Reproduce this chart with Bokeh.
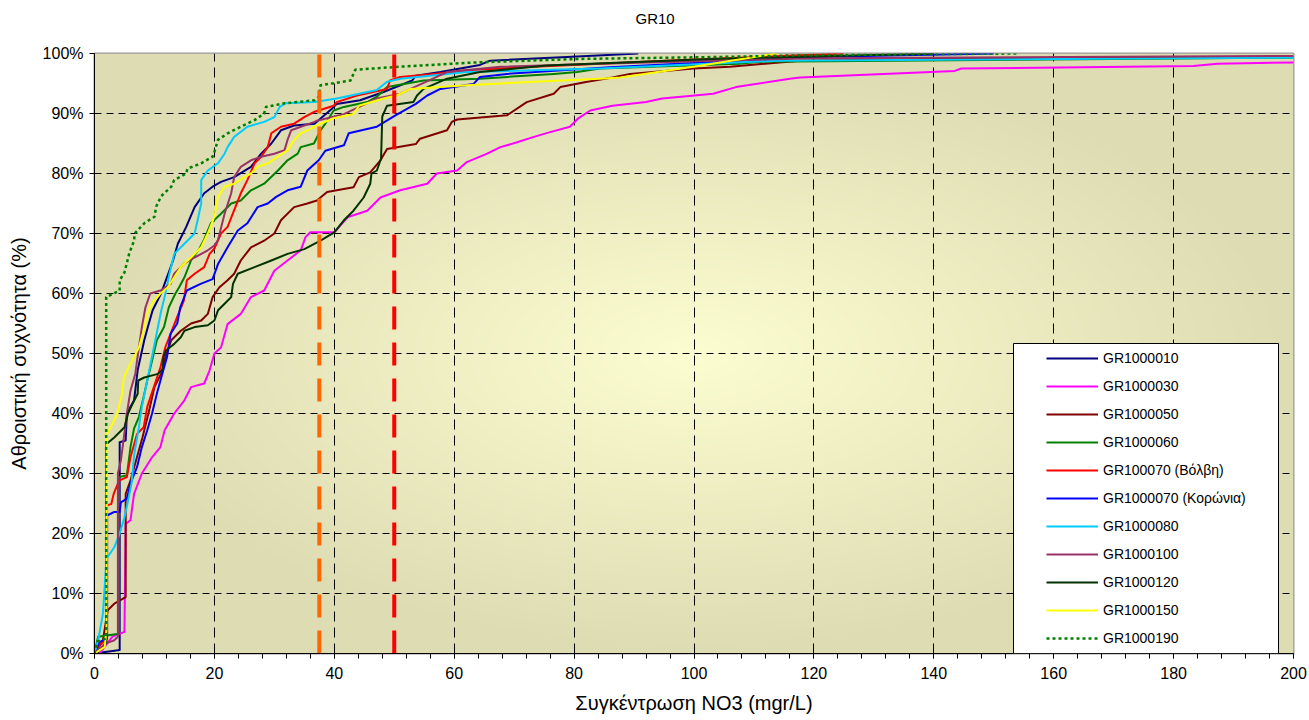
import numpy as np
from bokeh.plotting import figure
from bokeh.models import (Range1d, FixedTicker, PrintfTickFormatter, Legend,
                          LegendItem, BoxAnnotation, ColumnDataSource)
from bokeh.embed import file_html
from bokeh.resources import INLINE

# ---------------------------------------------------------------------------
# Cumulative frequency of NO3 concentration per monitoring station (GR10)
# x: concentration (mgr/L), y: cumulative frequency (%)
# ---------------------------------------------------------------------------
station_names = ["GR1000010", "GR1000030", "GR1000050", "GR1000060",
                 "GR100070 (Βόλβη)", "GR1000070 (Κορώνια)", "GR1000080",
                 "GR1000100", "GR1000120", "GR1000150", "GR1000190"]

station_colors = ["#000080", "#ff00ff", "#800000", "#008000", "#ff0000",
                  "#0000ff", "#00ccff", "#993366", "#003300", "#ffff00",
                  "#008000"]

x_gr1000010 = [0, 4.2, 4.2, 5.2, 5.4, 6.6, 7.2, 8.3, 8.9, 9.7, 11.1, 11.9, 13.1,
               13.9, 15.3, 16.7, 18.3, 19.7, 21.1, 23.3, 26.1, 27.8, 29.5, 31.1,
               33.3, 36.7, 39.6, 40.4, 44.3, 48.0, 53.0, 53.6, 57.7, 64.3, 66.0,
               78.8, 90.7]
y_gr1000010 = [0, 0.6, 35.2, 35.5, 40.0, 42.2, 47.2, 52.2, 54.4, 57.2, 60.0, 62.2,
               65.5, 68.3, 71.1, 74.4, 76.7, 77.8, 78.6, 79.4, 81.1, 83.3, 85.0,
               87.2, 88.0, 88.3, 90.8, 91.6, 92.2, 93.5, 95.5, 96.3, 96.9, 98.1,
               98.8, 99.4, 100]

x_gr1000030 = [0.8, 3.0, 4.2, 5.0, 5.2, 6.0, 6.6, 7.9, 9.6, 11.0, 11.7, 13.3, 15.0,
               16.1, 18.3, 19.2, 20.0, 21.1, 22.2, 24.4, 26.1, 28.3, 30.0, 32.2,
               34.4, 35.2, 36.0, 40.0, 42.2, 45.5, 47.7, 51.0, 55.5, 57.1, 60.5,
               62.1, 65.5, 67.7, 70.5, 73.3, 76.0, 79.3, 80.7, 82.7, 86.4, 92.0,
               94.7, 103.2, 107.0, 116.0, 117.7, 143.5, 144.6, 183.3, 187.3, 200]
y_gr1000030 = [0, 2.8, 3.3, 3.6, 21.6, 22.2, 26.6, 30.0, 32.7, 34.4, 37.2, 40.0,
               42.2, 44.4, 45.0, 47.2, 50.0, 51.0, 54.9, 56.6, 59.4, 60.5, 63.8,
               65.5, 67.2, 69.4, 70.2, 70.2, 72.7, 73.8, 76.0, 77.2, 78.3, 80.0,
               80.5, 81.9, 83.3, 84.4, 85.2, 86.1, 86.9, 87.8, 89.2, 90.5, 91.3,
               91.9, 92.5, 93.3, 94.4, 95.8, 96.0, 97.1, 97.5, 97.9, 98.3, 98.5]

x_gr1000050 = [0, 1.4, 2.2, 3.3, 5.2, 5.2, 6.0, 6.6, 8.0, 9.0, 10.0, 11.1, 12.0,
               12.8, 14.4, 16.1, 17.8, 18.9, 19.7, 20.8, 22.2, 23.3, 24.4, 26.1,
               28.3, 30.0, 31.1, 33.3, 35.5, 37.1, 38.8, 43.2, 44.1, 46.0, 47.7,
               48.8, 53.6, 54.3, 58.8, 59.6, 60.5, 68.8, 72.1, 76.6, 77.7, 82.2,
               86.4, 89.3, 99.9, 106.0, 117.7, 150.0, 200]
y_gr1000050 = [0, 2.2, 7.2, 8.3, 9.4, 26.6, 28.8, 31.0, 36.0, 40.0, 44.4, 46.6,
               50.0, 52.2, 53.8, 55.0, 55.5, 56.6, 59.4, 61.0, 62.2, 63.3, 65.5,
               67.7, 68.8, 70.0, 72.2, 74.4, 75.0, 75.5, 76.9, 77.7, 79.4, 80.2,
               82.2, 84.1, 84.9, 85.8, 87.2, 88.6, 89.0, 89.7, 91.9, 93.3, 94.4,
               95.3, 96.0, 96.6, 97.5, 97.8, 98.8, 99.2, 99.5]

x_gr1000060 = [0, 0.6, 2.0, 4.1, 4.1, 5.4, 6.0, 6.6, 7.4, 8.2, 8.8, 9.6, 10.4,
               11.6, 12.4, 13.5, 14.1, 15.0, 16.1, 17.5, 18.3, 19.4, 21.1, 22.8,
               24.4, 26.1, 28.3, 30.6, 32.2, 33.9, 34.4, 36.6, 37.7, 38.5, 39.9,
               41.6, 45.5, 47.1, 48.8, 54.9, 64.3, 68.9, 76.6, 80.5, 84.3, 107.6,
               110.4, 200]
y_gr1000060 = [0, 2.8, 3.0, 3.3, 29.4, 29.7, 34.4, 37.5, 39.4, 42.8, 45.5, 48.8,
               52.2, 54.4, 57.7, 60.0, 61.0, 62.7, 65.5, 67.5, 69.0, 71.7, 73.3,
               75.0, 75.5, 77.2, 78.3, 80.5, 82.2, 83.3, 84.4, 85.0, 87.2, 88.3,
               90.5, 91.1, 91.9, 92.8, 94.4, 95.5, 95.8, 96.1, 96.6, 96.9, 97.5,
               98.3, 98.6, 99.3]

x_gr100070_volvi = [0, 0.8, 1.7, 2.1, 2.1, 2.8, 3.2, 4.1, 5.4, 6.0, 7.1, 8.2, 8.8,
                    9.9, 11.0, 11.8, 12.7, 13.8, 14.9, 15.4, 16.7, 18.3, 19.2,
                    20.0, 21.1, 22.2, 23.3, 24.4, 25.5, 26.7, 27.8, 28.9, 29.5,
                    31.1, 33.3, 35.0, 36.7, 39.9, 40.4, 43.8, 48.8, 49.3, 51.0,
                    56.6, 62.1, 73.2, 84.3, 100.0, 125.0]
y_gr100070_volvi = [0, 1.3, 2.2, 3.0, 24.7, 24.9, 26.6, 28.8, 29.4, 32.7, 36.6,
                    37.7, 41.1, 44.4, 47.7, 51.0, 53.3, 56.1, 58.8, 62.2, 63.3,
                    64.4, 66.6, 67.5, 70.0, 71.1, 73.9, 76.7, 78.9, 81.7, 82.8,
                    84.4, 86.7, 87.8, 88.3, 89.4, 90.3, 91.3, 91.9, 93.0, 94.1,
                    95.5, 96.1, 96.6, 97.2, 97.8, 98.3, 99.0, 100]

x_gr1000070_koronia = [0, 0.8, 2.1, 2.1, 3.3, 4.2, 4.4, 5.4, 6.0, 7.1, 7.9, 8.8,
                       9.6, 10.4, 11.3, 12.1, 12.7, 13.8, 14.3, 15.4, 17.7, 19.7,
                       20.6, 22.2, 23.9, 25.5, 27.2, 28.9, 30.3, 32.2, 34.4, 35.5,
                       37.4, 38.5, 41.6, 42.4, 47.1, 50.2, 53.6, 55.5, 57.7, 63.2,
                       64.3, 68.8, 85.9, 120.0, 150.0]
y_gr1000070_koronia = [0, 1.9, 2.5, 23.0, 23.6, 23.6, 25.2, 25.8, 28.3, 31.1, 34.4,
                       37.2, 40.0, 43.3, 46.6, 49.4, 53.3, 55.0, 57.7, 60.5, 61.6,
                       62.4, 64.9, 67.7, 70.5, 71.7, 74.4, 75.0, 76.1, 77.2, 77.8,
                       80.5, 82.2, 83.8, 84.7, 86.7, 87.8, 89.7, 91.6, 93.0, 94.1,
                       94.9, 96.1, 96.6, 97.7, 99.4, 100]

x_gr1000080 = [0, 0.6, 1.1, 1.4, 2.0, 3.3, 4.2, 5.0, 5.5, 6.2, 6.6, 7.4, 7.9, 8.8,
               9.4, 10.0, 10.6, 11.1, 11.7, 12.5, 13.3, 15.0, 16.7, 17.2, 17.8,
               17.8, 18.9, 20.6, 21.7, 22.2, 23.3, 25.5, 28.3, 30.0, 30.9, 31.9,
               36.7, 40.4, 47.1, 48.8, 51.0, 62.1, 73.2, 84.3, 114.0, 200]
y_gr1000080 = [0, 2.2, 4.9, 6.6, 15.8, 17.7, 20.0, 22.7, 25.0, 28.5, 33.0, 37.7,
               41.1, 45.5, 48.5, 51.5, 54.5, 57.0, 59.4, 63.3, 66.6, 68.3, 70.0,
               72.2, 75.0, 78.9, 80.5, 81.7, 83.3, 84.4, 86.1, 87.8, 88.6, 89.4,
               91.1, 91.7, 91.9, 92.5, 93.9, 95.3, 95.8, 96.9, 97.2, 97.5, 98.8,
               99.3]

x_gr1000100 = [0, 1.7, 3.3, 3.9, 3.9, 4.4, 4.9, 5.4, 6.0, 6.8, 7.4, 7.9, 8.5, 9.3,
               11.0, 12.7, 13.3, 15.0, 16.7, 18.9, 20.0, 20.6, 21.7, 22.8, 23.3,
               24.4, 26.1, 27.8, 30.0, 31.7, 32.2, 32.8, 35.0, 36.7, 37.1, 41.6,
               47.1, 51.0, 58.8, 67.7, 84.3, 120.0, 200]
y_gr1000100 = [0, 1.6, 2.2, 2.8, 30.0, 32.2, 36.0, 40.0, 43.8, 46.6, 51.0, 54.4,
               57.7, 60.0, 60.5, 61.6, 63.3, 65.0, 66.0, 67.2, 68.0, 68.9, 73.3,
               76.7, 79.4, 81.1, 82.2, 82.8, 83.3, 83.9, 85.6, 87.2, 88.0, 88.6,
               88.8, 89.9, 92.5, 93.3, 96.9, 97.8, 98.3, 99.2, 99.6]

x_gr1000120 = [0, 1.5, 2.0, 2.0, 3.3, 5.0, 5.6, 6.1, 7.2, 7.3, 8.3, 10.6, 11.4,
               11.5, 11.9, 13.3, 14.4, 15.0, 16.7, 18.9, 20.0, 20.6, 21.7, 22.8,
               23.1, 23.9, 26.7, 29.5, 32.2, 35.0, 37.7, 40.0, 41.6, 43.2, 44.9,
               46.0, 46.2, 47.1, 47.8, 48.0, 48.8, 53.2, 53.8, 54.9, 58.8, 64.3,
               75.4, 103.0, 140.0]
y_gr1000120 = [0, 1.0, 2.0, 34.9, 36.0, 37.7, 40.0, 41.1, 43.3, 45.5, 46.0, 46.6,
               47.4, 49.4, 50.5, 51.6, 52.7, 53.8, 54.4, 54.7, 55.5, 57.2, 58.3,
               59.4, 61.6, 63.3, 64.4, 65.5, 66.6, 67.4, 68.8, 70.2, 72.2, 73.8,
               76.0, 78.3, 80.0, 80.5, 82.5, 89.5, 91.3, 91.9, 93.0, 94.1, 95.8,
               96.9, 98.0, 99.1, 100]

x_gr1000150 = [0, 1.7, 2.0, 2.1, 3.0, 3.8, 4.6, 4.9, 5.7, 6.6, 7.4, 8.2, 8.8, 9.6,
               11.0, 12.2, 13.3, 14.4, 16.1, 17.8, 18.9, 20.0, 20.6, 21.7, 23.3,
               25.0, 26.1, 27.2, 28.9, 30.6, 32.2, 33.3, 34.4, 35.5, 37.7, 39.9,
               43.2, 44.1, 48.2, 50.4, 52.7, 62.1, 73.2, 84.3, 87.7, 99.9, 113.8]
y_gr1000150 = [0, 1.1, 3.8, 36.6, 38.3, 40.0, 43.3, 46.0, 47.7, 49.4, 51.0, 53.8,
               56.6, 58.3, 60.0, 61.0, 62.7, 64.4, 66.0, 67.7, 70.0, 72.8, 76.1,
               77.8, 78.3, 79.4, 80.0, 81.1, 81.7, 82.8, 83.9, 85.6, 86.7, 87.2,
               88.3, 89.2, 89.9, 91.3, 92.5, 93.0, 94.1, 94.7, 95.3, 95.8, 96.0,
               97.8, 100]

x_gr1000190 = [0, 0.5, 1.95, 1.95, 4.2, 4.2, 5.0, 5.8, 6.6, 6.7, 8.3, 10.0, 10.3,
               11.1, 12.8, 13.3, 15.3, 15.5, 17.8, 19.7, 20.0, 20.6, 22.2, 24.4,
               26.7, 28.3, 28.6, 31.7, 36.7, 37.4, 37.7, 42.7, 43.5, 51.0, 63.2,
               81.0, 103.0, 117.7, 153.8]
y_gr1000190 = [0, 2.0, 2.5, 59.4, 60.5, 62.2, 63.5, 66.7, 68.8, 70.0, 71.7, 72.8,
               74.5, 76.2, 77.8, 78.9, 80.0, 80.8, 81.7, 82.8, 83.6, 85.6, 86.7,
               87.8, 88.9, 90.0, 91.1, 91.7, 92.2, 92.8, 94.7, 95.5, 97.3, 97.8,
               98.5, 99.1, 99.4, 99.7, 100]

station_x = [x_gr1000010, x_gr1000030, x_gr1000050, x_gr1000060, x_gr100070_volvi,
             x_gr1000070_koronia, x_gr1000080, x_gr1000100, x_gr1000120,
             x_gr1000150, x_gr1000190]
station_y = [y_gr1000010, y_gr1000030, y_gr1000050, y_gr1000060, y_gr100070_volvi,
             y_gr1000070_koronia, y_gr1000080, y_gr1000100, y_gr1000120,
             y_gr1000150, y_gr1000190]

# Reference concentrations drawn as thick dashed verticals
limit_values = [37.5, 50.0]
limit_colors = ["#ff6600", "#ff0000"]

x_ticks = [0, 20, 40, 60, 80, 100, 120, 140, 160, 180, 200]
y_ticks = [0, 10, 20, 30, 40, 50, 60, 70, 80, 90, 100]

FONT = "Liberation Sans"
W, H = 1309, 720
LEFT, RIGHT, TOP, BOTTOM = 94, 16, 53, 67

p = figure(width=W, height=H, output_backend="svg", toolbar_location=None,
           x_range=Range1d(0, 200), y_range=Range1d(0, 100),
           min_border_left=LEFT, min_border_right=RIGHT, min_border_top=TOP,
           min_border_bottom=BOTTOM)

p.background_fill_color = "white"
p.border_fill_color = "white"
p.outline_line_color = "#9a9a9a"
p.outline_line_width = 2

# Chart title, centred on the whole canvas; the trailing empty line (with a
# taller line spacing) lifts the title towards the top edge of the chart
p.title.text = "GR10\n"
p.title.align = "left"
p.title.offset = 541
p.title.vertical_align = "bottom"
p.title.standoff = 0
p.title.text_font = FONT
p.title.text_font_size = "15px"
p.title.text_font_style = "normal"
p.title.text_line_height = 1.57
p.title.text_color = "black"

# Radial shading of the plotting area: pale yellow in the middle, olive at the edges
gw, gh = 600, 300
gx, gy = np.meshgrid(np.linspace(-1, 1, gw), np.linspace(-1, 1, gh))
t = np.clip(np.sqrt(gx ** 2 + gy ** 2), 0, 1)
inner = np.array([253, 253, 210], dtype=float)
outer = np.array([222, 220, 178], dtype=float)
rgb = inner[None, None, :] + (outer - inner)[None, None, :] * t[..., None]
shade = np.empty((gh, gw), dtype=np.uint32)
view = shade.view(dtype=np.uint8).reshape((gh, gw, 4))
view[..., 0] = rgb[..., 0].astype(np.uint8)
view[..., 1] = rgb[..., 1].astype(np.uint8)
view[..., 2] = rgb[..., 2].astype(np.uint8)
view[..., 3] = 255
p.image_rgba(image=[shade], x=0, y=0, dw=200, dh=100, level="image")

# Axes
xax, yax = p.below[0], p.left[0]
xax.ticker = FixedTicker(ticks=x_ticks, minor_ticks=list(range(0, 201, 4)))
yax.ticker = FixedTicker(ticks=y_ticks, minor_ticks=[])
yax.formatter = PrintfTickFormatter(format="%d%%")
for ax in (xax, yax):
    ax.axis_line_color = "black"
    ax.axis_line_width = 1
    ax.major_tick_line_color = "black"
    ax.minor_tick_line_color = "black"
    ax.major_tick_in = 0
    ax.major_tick_out = 5
    ax.minor_tick_in = 0
    ax.minor_tick_out = 5
    ax.major_label_text_font = FONT
    ax.major_label_text_font_size = "16px"
    ax.major_label_text_color = "black"
    ax.axis_label_text_font = FONT
    ax.axis_label_text_font_size = "20px"
    ax.axis_label_text_font_style = "normal"
    ax.axis_label_text_color = "black"
xax.major_label_standoff = 8
yax.major_label_standoff = 6
xax.axis_label = "Συγκέντρωση NO3 (mgr/L)"
yax.axis_label = "Αθροιστική συχνότητα (%)"
xax.axis_label_standoff = 10
yax.axis_label_standoff = 10

# Dashed grid (interior lines only)
p.xgrid.ticker = FixedTicker(ticks=x_ticks[1:-1])
p.ygrid.ticker = FixedTicker(ticks=y_ticks[1:-1])
p.xgrid.grid_line_color = "black"
p.xgrid.grid_line_dash = "10 6"
p.ygrid.grid_line_color = "black"
p.ygrid.grid_line_dash = "7 5"

# Station curves
items = []
for name, color, xs, ys in zip(station_names, station_colors, station_x, station_y):
    dotted = name == "GR1000190"
    r = p.line(xs, ys, line_color=color, line_width=2.5 if dotted else 2,
               line_dash="3 3" if dotted else "solid", line_join="round")
    items.append(LegendItem(label=name, renderers=[r]))

# Limit lines
limits = ColumnDataSource(dict(x=limit_values, y0=[0, 0], y1=[100, 100],
                               color=limit_colors))
p.segment(x0="x", y0="y0", x1="x", y1="y1", color="color", line_width=4,
          line_dash="23 13", source=limits)

# Legend box (white panel in the lower right corner of the frame) and legend
legend_box = BoxAnnotation(left=919, right=1184, bottom=0, top=310,
                           left_units="screen", right_units="screen",
                           top_units="screen", bottom_units="screen",
                           fill_color="white", fill_alpha=1.0,
                           line_color="black", line_width=1, line_alpha=1.0)
p.add_layout(legend_box)

legend = Legend(items=items, location=(947, 0), padding=5, spacing=8, margin=0,
                glyph_width=52, glyph_height=20, label_height=20,
                label_standoff=5, label_text_font=FONT,
                label_text_font_size="14px", label_text_color="black",
                border_line_alpha=0, background_fill_alpha=0)
p.add_layout(legend)

open("out.html", "w").write(file_html(p, INLINE))
